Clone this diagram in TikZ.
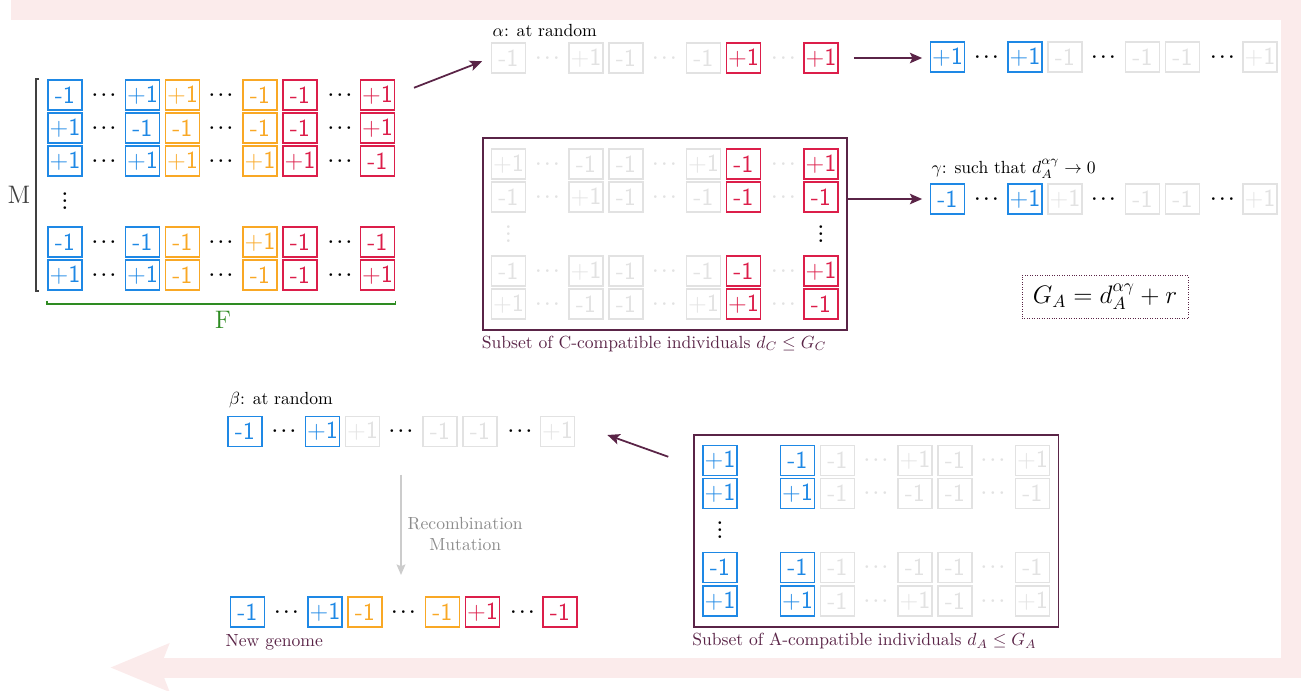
\documentclass[tikz,border=0pt]{standalone}
\usepackage{tikz}
\usetikzlibrary{calc,fit,arrows.meta}

\definecolor{cblue}{HTML}{1E88E5}
\definecolor{corange}{HTML}{F9A825}
\definecolor{cred}{HTML}{DC1E4A}
\definecolor{cgray}{HTML}{E2E2E2}
\definecolor{cplum}{HTML}{5A2447}
\definecolor{cgreen}{HTML}{2E8B22}
\definecolor{cpink}{HTML}{FBEBEB}

\tikzset{
  cell/.style={draw=#1, text=#1, line width=1pt, minimum width=0.68cm, minimum height=0.6cm,
    inner sep=0pt, font=\sffamily\fontsize{14}{14}\selectfont},
  dotnode/.style={text=#1, inner sep=0pt, font=\boldmath},
  vdotnode/.style={text=#1, inner sep=0pt, font=\bfseries},
  lab/.style={inner sep=1pt, font=\normalsize},
  caption/.style={inner sep=1pt, text=cplum},
  subsetbox/.style={draw=cplum, line width=1pt, inner xsep=0.16cm, inner ysep=0.2cm},
  arr/.style={draw=cplum, line width=1pt, -{Stealth[length=7pt,width=6pt,inset=1.5pt]}},
  recarr/.style={draw=black!20, line width=1pt, -{Stealth[length=6pt,width=5pt,inset=1pt]}},
  loopline/.style={draw=cpink, line width=0.4cm, -{Stealth[length=1.16cm,width=0.92cm,inset=0.16cm]}},
}

% vertical dots without the empty space on top
\newcommand{\vdotsbox}{\vbox{\baselineskip4pt\lineskiplimit0pt\hbox{.}\hbox{.}\hbox{.}}}

% one genome: name, x, y, colour/value of the six cells, offset/colour of the dots
\newcommand{\genrow}[5]{%
  \foreach \c/\v [count=\i] in {#4}{%
    \pgfmathsetmacro{\dx}{{0,77.5,117.5,195,235,312.5}[\i-1]}%
    \node[cell=\c] (#1-\i) at (#2+\dx,#3) {\v};
  }%
  \foreach \dx/\c [count=\i] in {#5}
    \node[dotnode=\c] (#1-d\i) at (#2+\dx,#3) {$\cdots$};
}

\begin{document}
\begin{tikzpicture}[x=0.02cm,y=-0.02cm]
  %%%%% START %%%%%
  \useasboundingbox (0,0) rectangle (1314,690);

  \draw[loopline] (11,10) -- (1291,10) -- (1291,667.5) -- (110,667.5);

  % population matrix
  \genrow{m1}{65}{95}{cblue/-1,cblue/+1,corange/+1,corange/-1,cred/-1,cred/+1}{39/black,156/black,275/black}
  \genrow{m2}{65}{128}{cblue/+1,cblue/-1,corange/-1,corange/-1,cred/-1,cred/+1}{39/black,156/black,275/black}
  \genrow{m3}{65}{161}{cblue/+1,cblue/+1,corange/+1,corange/+1,cred/+1,cred/-1}{39/black,156/black,275/black}
  \genrow{m4}{65}{242}{cblue/-1,cblue/-1,corange/-1,corange/+1,cred/-1,cred/-1}{39/black,156/black,275/black}
  \genrow{m5}{65}{275}{cblue/+1,cblue/+1,corange/-1,corange/-1,cred/-1,cred/+1}{39/black,156/black,275/black}
  \node[vdotnode=black] (mvdots) at ($(m3-1)!0.5!(m4-1)$) {\vdotsbox};

  \draw[black!75, line width=0.8pt] ([xshift=-0.16cm]m1-1.north west) -- ([xshift=-0.22cm]m1-1.north west)
    -- ([xshift=-0.22cm]m5-1.south west) -- ([xshift=-0.16cm]m5-1.south west);
  \node[text=black!75, font=\Large] (mlab) at (19,195) {M};

  \draw[cgreen, line width=0.8pt] ([yshift=-0.2cm]m5-1.south west) -- ([yshift=-0.26cm]m5-1.south west)
    -- ([yshift=-0.26cm]m5-6.south east) -- ([yshift=-0.2cm]m5-6.south east);
  \node[text=cgreen, font=\Large] (flab) at (223,320) {F};

  % alpha
  \genrow{alpha}{508.5}{58}{cgray/-1,cgray/+1,cgray/-1,cgray/-1,cred/+1,cred/+1}{39/cgray,156/cgray,275/cgray}
  \node[lab, anchor=base west] (alphalab) at ([yshift=0.12cm]alpha-1.north west) {$\alpha$: at random};
  \draw[arr, shorten <=0.4cm, shorten >=0.18cm] (m1-6.east) -- (alpha-1.west);

  \genrow{ag}{947.5}{57}{cblue/+1,cblue/+1,cgray/-1,cgray/-1,cgray/-1,cgray/+1}{39/black,156/black,275/black}
  \draw[arr, shorten <=0.3cm, shorten >=0.15cm] (alpha-6.east) -- (alpha-6.east -| ag-1.west);

  % C-compatible subset
  \genrow{c1}{508.5}{164}{cgray/+1,cgray/-1,cgray/-1,cgray/+1,cred/-1,cred/+1}{39/cgray,156/cgray,275/cgray}
  \genrow{c2}{508.5}{197}{cgray/-1,cgray/+1,cgray/-1,cgray/-1,cred/-1,cred/-1}{39/cgray,156/cgray,275/cgray}
  \genrow{c3}{508.5}{271}{cgray/-1,cgray/+1,cgray/-1,cgray/-1,cred/-1,cred/+1}{39/cgray,156/cgray,275/cgray}
  \genrow{c4}{508.5}{304}{cgray/+1,cgray/-1,cgray/-1,cgray/+1,cred/+1,cred/-1}{39/cgray,156/cgray,275/cgray}
  \node[vdotnode=cgray] (cvdots1) at ($(c2-1)!0.5!(c3-1)$) {\vdotsbox};
  \node[vdotnode=black] (cvdots6) at ($(c2-6)!0.5!(c3-6)$) {\vdotsbox};
  \node[subsetbox, fit=(c1-1)(c4-6)] (cbox) {};
  \node[caption, anchor=north west] (ccap) at ([xshift=-0.04cm,yshift=-0.06cm]cbox.south west)
    {Subset of C-compatible individuals $d_C \leq G_C$};

  % gamma
  \genrow{gamma}{947.5}{199}{cblue/-1,cblue/+1,cgray/+1,cgray/-1,cgray/-1,cgray/+1}{39/black,156/black,275/black}
  \node[lab, anchor=base west] (gammalab) at ([yshift=0.2cm]gamma-1.north west)
    {$\gamma$: such that $d_A^{\alpha\gamma}\to 0$};
  \draw[arr, shorten >=0.15cm] (cbox.east |- gamma-1) -- (gamma-1.west);

  \node[draw=cplum, densely dotted, minimum width=3.32cm, minimum height=0.86cm, font=\Large] (gabox)
    at (1105,297) {$G_A = d_A^{\alpha\gamma} + r$};

  % A-compatible subset
  \genrow{a1}{720}{460.5}{cblue/+1,cblue/-1,cgray/-1,cgray/+1,cgray/-1,cgray/+1}{156/cgray,273/cgray}
  \genrow{a2}{720}{493.5}{cblue/+1,cblue/+1,cgray/-1,cgray/-1,cgray/-1,cgray/-1}{156/cgray,273/cgray}
  \genrow{a3}{720}{567.5}{cblue/-1,cblue/-1,cgray/-1,cgray/-1,cgray/-1,cgray/-1}{156/cgray,273/cgray}
  \genrow{a4}{720}{601}{cblue/+1,cblue/+1,cgray/-1,cgray/+1,cgray/-1,cgray/+1}{156/cgray,273/cgray}
  \node[vdotnode=black] (avdots) at ($(a2-1)!0.5!(a3-1)$) {\vdotsbox};
  \node[subsetbox, fit=(a1-1)(a4-6)] (abox) {};
  \node[caption, anchor=north west] (acap) at ([xshift=-0.06cm,yshift=-0.06cm]abox.south west)
    {Subset of A-compatible individuals $d_A \leq G_A$};

  % beta
  \genrow{beta}{245}{431.5}{cblue/-1,cblue/+1,cgray/+1,cgray/-1,cgray/-1,cgray/+1}{39/black,156/black,275/black}
  \node[lab, anchor=base west] (betalab) at ([yshift=0.22cm]beta-1.north west) {$\beta$: at random};
  \draw[arr] ($(abox.north west)+(-25,23)$) -- ($(beta-6.east)+(32,3.5)$);

  % new genome
  \genrow{new}{247.5}{612}{cblue/-1,cblue/+1,corange/-1,corange/-1,cred/+1,cred/-1}{39/black,156/black,275/black}
  \node[caption, anchor=north west] (newcap) at ([xshift=-0.12cm,yshift=-0.1cm]new-1.south west) {New genome};
  \draw[recarr, shorten <=0.77cm, shorten >=0.74cm] (beta-d2) -- (beta-d2 |- new-d2)
    node[midway, right, yshift=-0.2cm, align=center, text=black!45] {Recombination\\Mutation};

  %%%%% END %%%%%
\end{tikzpicture}
\end{document}
